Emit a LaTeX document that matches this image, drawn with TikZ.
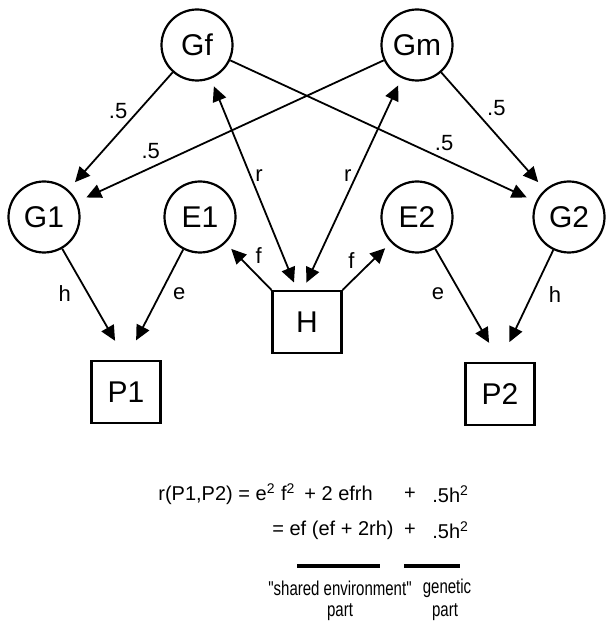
\documentclass[tikz,border=0pt]{standalone}
\usepackage{fontspec}
\setmainfont{Liberation Sans}
\newfontfamily\narrowfont[FakeStretch=0.75]{Liberation Sans}
\usetikzlibrary{arrows.meta}
\newcommand{\sq}{\textsuperscript{2}}

\begin{document}
\begin{tikzpicture}[x=0.5pt,y=-0.5pt,
  >={Triangle[length=7.5pt,width=7pt]},
  gene/.style={draw,circle,line width=1.1pt,minimum size=35.5pt,inner sep=0pt,font=\fontsize{15}{15}\selectfont},
  obs/.style={draw,rectangle,line width=1.1pt,minimum width=34.5pt,minimum height=31pt,inner sep=0pt,font=\fontsize{15}{15}\selectfont},
  link/.style={line width=0.9pt,->,shorten >=5pt},
  lab/.style={font=\fontsize{11}{11}\selectfont,inner sep=2pt},
  formula/.style={font=\fontsize{10}{12}\selectfont,inner sep=0pt},
  caption/.style={font=\narrowfont\fontsize{10}{12}\selectfont,inner sep=0pt},
  uline/.style={line width=1.6pt}]
\useasboundingbox (0,0) rectangle (606,635);
% latent and observed variables
\node[gene] (Gf) at (197,45) {Gf};
\node[gene] (Gm) at (417,45) {Gm};
\node[gene] (G1) at (44,217) {G1};
\node[gene] (E1) at (200,217) {E1};
\node[gene] (E2) at (417,217) {E2};
\node[gene] (G2) at (569,217) {G2};
\node[obs] (H) at (307,322) {H};
\node[obs] (P1) at (126,392) {P1};
\node[obs] (P2) at (500,394) {P2};
% grandparents to parents
\draw[link] (Gf) -- (G1) node[lab,pos=.33,left=3pt]{.5};
\draw[link] (Gf) -- (G2) node[lab,pos=.7,above=2pt]{.5};
\draw[link] (Gm) -- (G1) node[lab,pos=.76,above=2pt]{.5};
\draw[link] (Gm) -- (G2) node[lab,pos=.3,right=5pt]{.5};
% home environment
\draw[link,<->,shorten <=4pt,shorten >=4pt] (Gf) -- ([xshift=-5pt]H.north) node[lab,pos=.46,right]{r};
\draw[link,<->,shorten <=4pt,shorten >=4pt] (Gm) -- ([xshift=-2pt]H.north) node[lab,pos=.46,left]{r};
\draw[link,shorten >=4pt] (H.north west) -- (E1) node[lab,pos=.45,above right]{f};
\draw[link,shorten >=4pt] (H.north east) -- (E2) node[lab,pos=.35,above left]{f};
% phenotypes
\draw[link,shorten >=11pt] (G1) -- (P1.north) node[lab,pos=.4,left=6pt]{h};
\draw[link,shorten >=11pt] (E1) -- (P1.north) node[lab,pos=.4,right=4pt]{e};
\draw[link,shorten >=11pt] (E2) -- (P2.north) node[lab,pos=.4,left=6pt]{e};
\draw[link,shorten >=11pt] (G2) -- (P2.north) node[lab,pos=.4,right=6pt]{h};
% correlation
\node[formula,anchor=west] (lineA) at (158,494) {r(P1,P2) = e\sq\ f\sq\ \,+ 2 efrh};
\node[formula] (plusA) at (410,494) {+};
\node[formula,anchor=west] (genA) at (432,494) {.5h\sq};
\node[formula,anchor=west] (lineB) at (272,530) {= ef (ef + 2rh)};
\node[formula] (plusB) at (410,530) {+};
\node[formula,anchor=west] (genB) at (432,530) {.5h\sq};
\draw[uline] (297,566) -- (380,566);
\draw[uline] (404,566) -- (460,566);
\node[caption] (envtxt) at (340,588) {"shared environment"};
\node[caption] (gentxt) at (447,588) {genetic};
\node[caption] (envpart) at (340,612) {part};
\node[caption] (genpart) at (445,612) {part};
\end{tikzpicture}
\end{document}
